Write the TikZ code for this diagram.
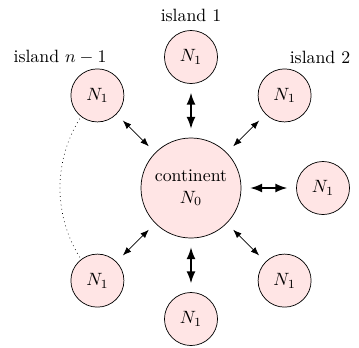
\documentclass[tikz,border=0pt]{standalone}
\usetikzlibrary{arrows.meta}
\begin{document}
\begin{tikzpicture}[x=0.5618pt,y=-0.5618pt,
  island/.style={circle,draw,fill=red!10,minimum size=29.8pt,inner sep=0pt},
  cont/.style={circle,draw,fill=red!10,minimum size=56.2pt,inner sep=0pt,align=center},
  link/.style={{Latex}-{Latex},shorten >=5pt,shorten <=5pt},
  biglink/.style={link,thick},
  lbl/.style={inner sep=0pt}]
\useasboundingbox (0,0) rectangle (359,347);
\coordinate (c) at (191,188);
\draw[dotted] ([shift={(225:131)}]c) arc[start angle=225,end angle=135,radius=131];
\node[cont] (n0) at (c) {continent\\$N_0$};
\node[island] (i1) at (191,57) {$N_1$};
\node[island] (i2) at (284.6,95.4) {$N_1$};
\node[island] (i3) at (323,188) {$N_1$};
\node[island] (i4) at (284.6,280.6) {$N_1$};
\node[island] (i5) at (191,319) {$N_1$};
\node[island] (i6) at (97.4,280.6) {$N_1$};
\node[island] (i7) at (97.4,95.4) {$N_1$};
\node[lbl] (l1) at (191,15) {island 1};
\node[lbl] (l2) at (320,57) {island 2};
\node[lbl] (l7) at (60,57) {island $n-1$};
\draw[biglink] (i1) -- (n0);
\draw[biglink] (i3) -- (n0);
\draw[biglink] (i5) -- (n0);
\draw[link] (i2) -- (n0);
\draw[link] (i4) -- (n0);
\draw[link] (i6) -- (n0);
\draw[link] (i7) -- (n0);
\end{tikzpicture}
\end{document}
